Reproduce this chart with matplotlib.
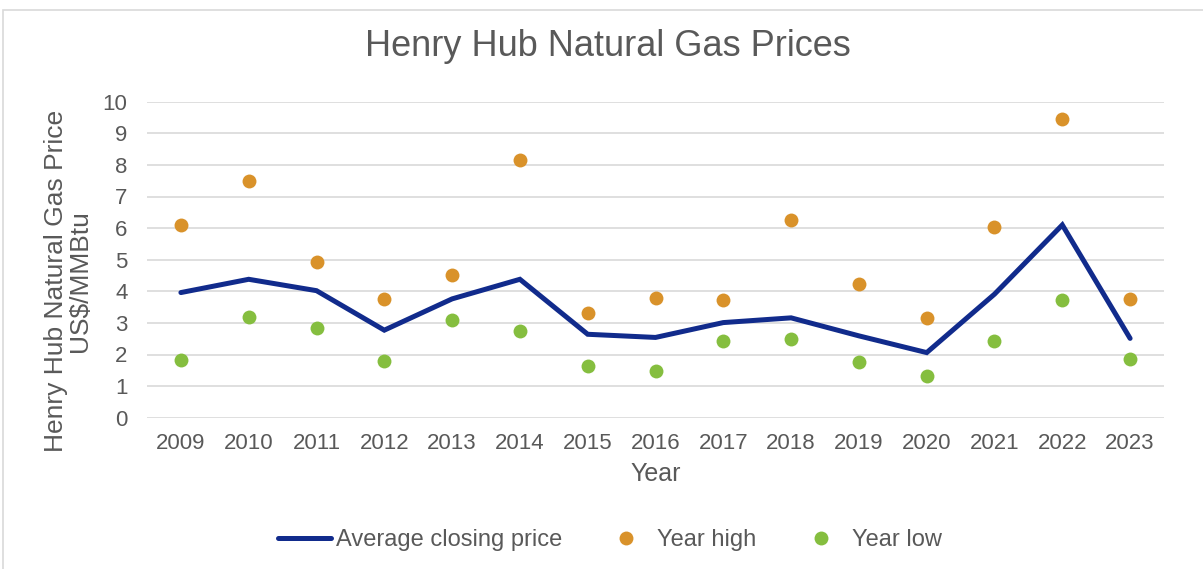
import matplotlib
matplotlib.use("Agg")
import matplotlib.pyplot as plt
from matplotlib.patches import Rectangle
import numpy as np

plt.rcParams['font.family'] = ['Liberation Sans', 'DejaVu Sans']

years = [2009, 2010, 2011, 2012, 2013, 2014, 2015, 2016, 2017, 2018, 2019, 2020, 2021, 2022, 2023]
avg_close = [3.96, 4.38, 4.02, 2.77, 3.76, 4.38, 2.64, 2.54, 3.01, 3.16, 2.59, 2.06, 3.91, 6.10, 2.51]
year_high = [6.10, 7.50, 4.93, 3.77, 4.53, 8.15, 3.32, 3.79, 3.71, 6.25, 4.24, 3.14, 6.02, 9.44, 3.77]
year_low = [1.83, 3.18, 2.84, 1.80, 3.09, 2.74, 1.63, 1.48, 2.44, 2.50, 1.75, 1.32, 2.44, 3.72, 1.87]

txt = '#595959'
W, H = 1203, 569
fig = plt.figure(figsize=(W / 100, H / 100), dpi=100)
# plot area in pixels: x 147..1164, y 101.7..417.7
ax = fig.add_axes([147 / W, 1 - 417.7 / H, (1164 - 147) / W, (417.7 - 101.7) / H])

x = np.arange(len(years))
ax.plot(x, avg_close, color='#112B8C', lw=3.6, solid_capstyle='round',
        solid_joinstyle='miter', label='Average closing price', zorder=3)
ax.plot(x, year_high, 'o', color='#D9922A', ms=10, mec='none', label='Year high', zorder=4)
ax.plot(x, year_low, 'o', color='#85BE3F', ms=10, mec='none', label='Year low', zorder=4)

ax.set_xlim(-0.5, len(years) - 0.5)
ax.set_ylim(0, 10)
ax.set_yticks(range(0, 11))
ax.set_xticks(x)
ax.set_xticklabels([str(y) for y in years])
ax.grid(axis='y', color='#D9D9D9', lw=1.2)
ax.set_axisbelow(True)
for s in ax.spines.values():
    s.set_visible(False)
ax.tick_params(length=0, labelsize=16, labelcolor=txt)
ax.tick_params(axis='y', pad=14)
ax.tick_params(axis='x', pad=11)

ax.set_xlabel('Year', fontsize=18, color=txt, labelpad=6)
fig.text(68 / W, 1 - 281 / H, 'Henry Hub Natural Gas Price\nUS$/MMBtu', rotation=90,
         ha='center', va='center', fontsize=19, color=txt, linespacing=1.0)

fig.text(608 / W, 1 - 47 / H, 'Henry Hub Natural Gas Prices', ha='center', va='center',
         fontsize=26, color=txt)

leg = fig.legend(loc='center', bbox_to_anchor=(610 / W, 1 - 540 / H), ncol=3, frameon=False,
                 fontsize=17, handlelength=2.25, handletextpad=0.2, columnspacing=1.6,
                 labelcolor=txt)

fig.patches.append(Rectangle((3 / W, -0.1), 1.2, 1 - 10 / H + 0.1, transform=fig.transFigure,
                             fill=False, edgecolor='#D9D9D9', lw=1.2))

fig.savefig('out.png', dpi=100)
